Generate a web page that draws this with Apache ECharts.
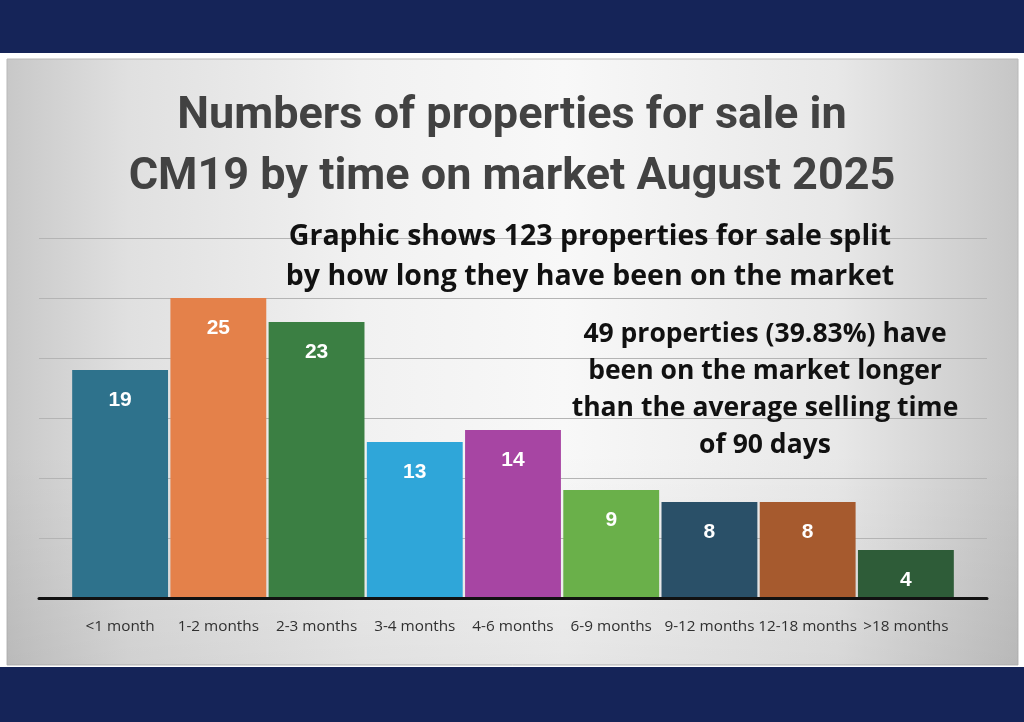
<!DOCTYPE html>
<html>
<head>
<meta charset="utf-8">
<script src="https://cdn.jsdelivr.net/npm/echarts@6/dist/echarts.min.js"></script>
<style>
html,body{margin:0;padding:0;background:#ffffff;}
#chart{width:1024px;height:722px;}
</style>
</head>
<body>
<div id="chart"></div>
<script>
const categories = ['<1 month','1-2 months','2-3 months','3-4 months','4-6 months','6-9 months','9-12 months','12-18 months','>18 months'];
const propertyCounts = [19, 25, 23, 13, 14, 9, 8, 8, 4];
const yTicks = [0, 5, 10, 15, 20, 25, 30];
const titleText = 'Numbers of properties for sale in\nCM19 by time on market August 2025';
const subtitleText = 'Graphic shows 123 properties for sale split\nby how long they have been on the market';
const noteText = '49 properties (39.83%) have\nbeen on the market longer\nthan the average selling time\nof 90 days';

const barColors = ['#2e728c','#e4814a','#3b7f43','#2fa6d9','#a745a3','#6ab04a','#2a5068','#a65a2e','#2e5c38'];
const navy = '#152458';

const chart = echarts.init(document.getElementById('chart'));
const yMin = yTicks[0], yMax = yTicks[yTicks.length-1], yStep = yTicks[1]-yTicks[0];

chart.setOption({
  animation: false,
  backgroundColor: '#ffffff',
  graphic: [
    {type:'rect', z:-100, silent:true, shape:{x:0,y:0,width:1024,height:53}, style:{fill:navy}},
    {type:'rect', z:-100, silent:true, shape:{x:0,y:667,width:1024,height:55}, style:{fill:navy}},
    {type:'rect', z:-100, silent:true, shape:{x:7,y:59,width:1011,height:606},
      style:{
        fill:{type:'linear', x:0, y:0, x2:1, y2:0,
          colorStops:[{offset:0,color:'#c8c8c8'},{offset:0.12,color:'#e0e0e0'},{offset:0.35,color:'#f1f1f1'},
                      {offset:0.55,color:'#f8f8f8'},{offset:0.82,color:'#e8e8e8'},{offset:1,color:'#c6c6c6'}]},
        stroke:'#b8b8b8', lineWidth:1
      }},
    {type:'rect', z:-99, silent:true, shape:{x:7,y:59,width:1011,height:606},
      style:{
        fill:{type:'linear', x:0, y:0, x2:0, y2:1,
          colorStops:[{offset:0,color:'rgba(0,0,0,0)'},{offset:0.65,color:'rgba(0,0,0,0)'},{offset:1,color:'rgba(0,0,0,0.07)'}]}
      }}
  ],
  title: [
    {text: titleText, left: 'center', top: 81,
      textStyle:{fontFamily:'Roboto', fontWeight:'bold', fontSize:45, lineHeight:61, color:'#424242'}},
    {text: subtitleText, left: 585, textAlign:'center', top: 212,
      textStyle:{fontFamily:'Open Sans', fontWeight:'bold', fontSize:28.5, lineHeight:40, color:'#111111'}},
    {text: noteText, left: 760, textAlign:'center', top: 311,
      textStyle:{fontFamily:'Open Sans', fontWeight:'bold', fontSize:26.5, lineHeight:37, color:'#111111'}}
  ],
  grid: [
    {left:39, right:37, top:238, bottom:124},
    {left:71, right:69, top:238, bottom:124}
  ],
  xAxis: [
    {type:'category', gridIndex:0, data:categories,
      axisLine:{show:true, lineStyle:{color:'#111111', width:3}},
      axisTick:{show:false}, axisLabel:{show:false}, splitLine:{show:false}, z:5},
    {type:'category', gridIndex:1, data:categories,
      axisLine:{show:false}, axisTick:{show:false},
      axisLabel:{show:true, interval:0, margin:21, fontFamily:'Open Sans', fontSize:15.3, color:'#303030'}}
  ],
  yAxis: [
    {type:'value', gridIndex:0, min:yMin, max:yMax, interval:yStep,
      axisLine:{show:false}, axisTick:{show:false}, axisLabel:{show:false},
      splitLine:{show:true, lineStyle:{color:'#b4b4b4', width:1}}},
    {type:'value', gridIndex:1, min:yMin, max:yMax, interval:yStep,
      axisLine:{show:false}, axisTick:{show:false}, axisLabel:{show:false},
      splitLine:{show:false}}
  ],
  series: [
    {type:'bar', xAxisIndex:1, yAxisIndex:1, data:propertyCounts,
      barWidth:'97.6%',
      itemStyle:{color:(p)=>barColors[p.dataIndex]},
      label:{show:true, position:'insideTop', distance:20,
        fontFamily:'Liberation Sans', fontWeight:'bold', fontSize:21, color:'#ffffff'}}
  ]
});
</script>
</body>
</html>
